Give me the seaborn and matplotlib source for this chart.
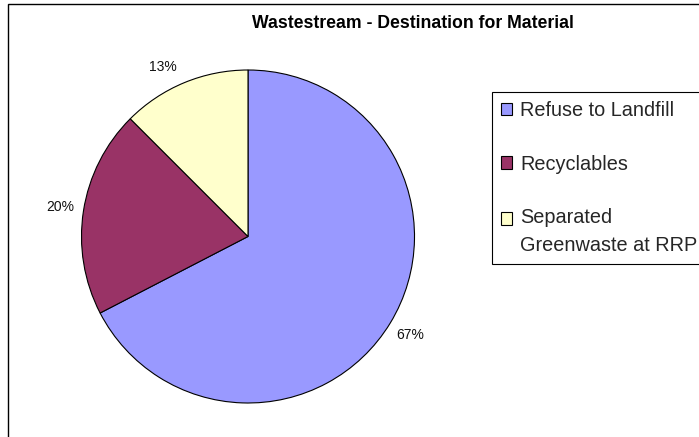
import numpy as np
import matplotlib
matplotlib.use("Agg")
import matplotlib.pyplot as plt
import seaborn as sns
from matplotlib.patches import Rectangle

# Data (share of the waste stream, %)
categories = ["Refuse to Landfill", "Recyclables", "Separated\nGreenwaste at RRP"]
shares = [67.4, 20.1, 12.5]
pct_labels = ["67%", "20%", "13%"]
colors = ["#9999FF", "#993366", "#FFFFCC"]

sns.set_theme(style="white")
plt.rcParams["font.family"] = ["Liberation Sans", "DejaVu Sans"]

W, H = 699, 437
fig = plt.figure(figsize=(W / 100, H / 100), dpi=100)
fig.patch.set_facecolor("white")

# Chart area border (only left and top edges are visible in the crop)
fig.add_artist(Rectangle((8 / W, -0.1), 1.2, 1.1 - 4 / H, transform=fig.transFigure,
                         fill=False, edgecolor="black", linewidth=1.0))

# Pie axes: centre (248, 236.5), radius 166.5 px
r_px = 166.5
ax = fig.add_axes([(248 - r_px) / W, (H - 236.5 - r_px) / H, 2 * r_px / W, 2 * r_px / H])
wedges, _ = ax.pie(
    shares,
    colors=colors,
    startangle=90,
    counterclock=False,
    wedgeprops=dict(edgecolor="black", linewidth=0.8),
)
ax.set_xlim(-1, 1)
ax.set_ylim(-1, 1)
ax.set_aspect("equal")

# Percent labels just outside each slice (Excel nudges the small one a bit)
angle_nudge = [0, 0, 4]
for w, lab, dang in zip(wedges, pct_labels, angle_nudge):
    ang = np.deg2rad((w.theta1 + w.theta2) / 2 + dang)
    ax.text(1.14 * np.cos(ang), 1.14 * np.sin(ang), lab, ha="center", va="center",
            fontsize=10, color="#111111")

fig.text(413 / W, 1 - 27.7 / H, "Wastestream - Destination for Material",
         ha="center", va="baseline", fontsize=12.7, fontweight="bold", color="black")

fs = 14.3
leg = fig.legend(
    wedges, categories,
    loc="upper left",
    bbox_to_anchor=(492 / W, 1 - 92 / H),
    fontsize=fs,
    frameon=True,
    fancybox=False,
    framealpha=1,
    edgecolor="black",
    borderpad=0.45,
    labelspacing=1.75,
    handlelength=0.58,
    handleheight=0.62,
    handletextpad=0.4,
    borderaxespad=0,
)
leg.get_frame().set_linewidth(0.8)
for t in leg.get_texts():
    t.set_linespacing(1.55)
for h in leg.legend_handles:
    h.set_edgecolor("black")
    h.set_linewidth(0.8)

# marker of the two-line entry sits next to its first line, not the middle
fig.canvas.draw()
texts = leg.get_texts()
r = fig.canvas.get_renderer()
line_px = texts[2].get_window_extent(r).height - texts[0].get_window_extent(r).height
h3 = leg.legend_handles[2]
h3.set_y(h3.get_y() + 0.5 * line_px * 72 / fig.dpi)

fig.savefig("out.png", dpi=100)
